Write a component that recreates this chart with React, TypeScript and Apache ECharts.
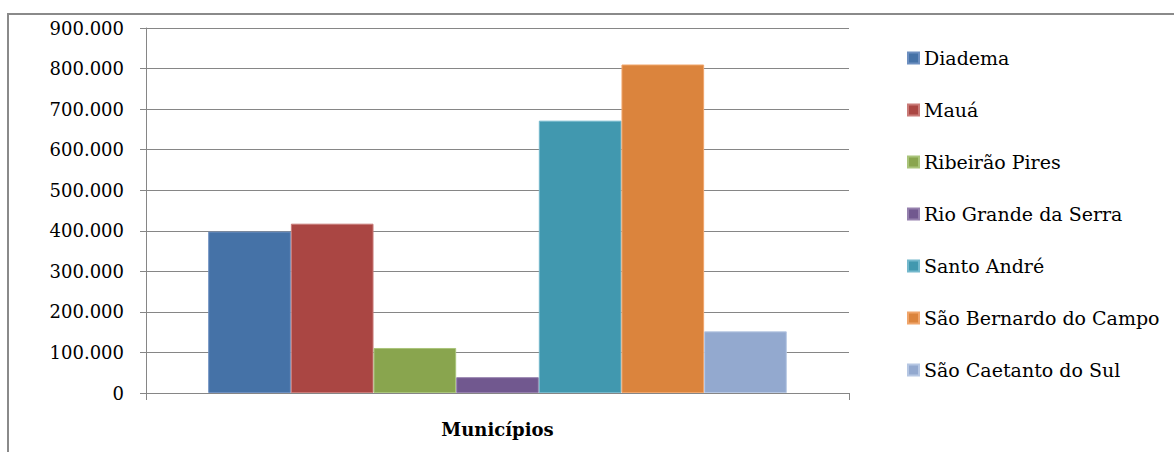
import React, { useEffect, useRef } from "react";
import * as echarts from "echarts";

// População por município (Grande ABC)
const categories = ["Municípios"];
const municipios = [
  "Diadema",
  "Mauá",
  "Ribeirão Pires",
  "Rio Grande da Serra",
  "Santo André",
  "São Bernardo do Campo",
  "São Caetanto do Sul",
];
const populacao = [398000, 417500, 111000, 39000, 671500, 810000, 152000];
const cores = ["#4572A7", "#AA4643", "#89A54E", "#71588F", "#4198AF", "#DB843D", "#93A9CF"];
const bordas = ["#6d8fc0", "#c97b78", "#a9c47a", "#9580ad", "#74b8cc", "#f0a56b", "#b6c7e3"];

const yMax = 900000;
const yStep = 100000;

const FONT = "DejaVu Serif";

function formatMilhar(v: number): string {
  if (v === 0) return "0";
  return String(Math.round(v)).replace(/\B(?=(\d{3})+(?!\d))/g, ".");
}

export default function App() {
  const ref = useRef<HTMLDivElement>(null);

  useEffect(() => {
    document.body.style.margin = "0";
    const chart = echarts.init(ref.current!, null, { renderer: "svg" });

    const series = municipios.map((nome, i) => ({
      name: nome,
      type: "bar" as const,
      data: [populacao[i]],
      barGap: "0%",
      barCategoryGap: "17.7%",
      itemStyle: { color: cores[i], borderColor: bordas[i], borderWidth: 1 },
    }));

    chart.setOption({
      animation: false,
      backgroundColor: "#ffffff",
      color: cores,
      graphic: [
        {
          type: "rect",
          shape: { x: 8, y: 14, width: 1200, height: 500 },
          style: { fill: "none", stroke: "#8a8a8a", lineWidth: 2 },
          silent: true,
        },
      ],
      grid: { left: 146, right: 325, top: 28, height: 365, containLabel: false },
      legend: {
        orient: "vertical",
        left: 907,
        top: 48,
        padding: 0,
        itemWidth: 11,
        itemHeight: 11,
        itemGap: 32,
        icon: "rect",
        data: municipios,
        textStyle: { fontFamily: FONT, fontSize: 19, lineHeight: 20, color: "#000" },
      },
      xAxis: {
        type: "category",
        data: categories,
        axisLine: { show: true, lineStyle: { color: "#868686", width: 1 } },
        axisTick: { show: true, length: 7, lineStyle: { color: "#868686" } },
        axisLabel: {
          margin: 27,
          fontFamily: FONT,
          fontSize: 18,
          fontWeight: "bold",
          color: "#000",
        },
      },
      yAxis: {
        type: "value",
        min: 0,
        max: yMax,
        interval: yStep,
        axisLine: { show: true, lineStyle: { color: "#868686", width: 1 } },
        axisTick: { show: true, length: 6, lineStyle: { color: "#868686" } },
        splitLine: { show: true, lineStyle: { color: "#868686", width: 1 } },
        axisLabel: {
          margin: 22,
          fontFamily: FONT,
          fontSize: 18,
          color: "#000",
          formatter: (v: number) => formatMilhar(v),
        },
      },
      series,
    });

    return () => chart.dispose();
  }, []);

  return <div ref={ref} style={{ width: 1174, height: 452 }} />;
}
